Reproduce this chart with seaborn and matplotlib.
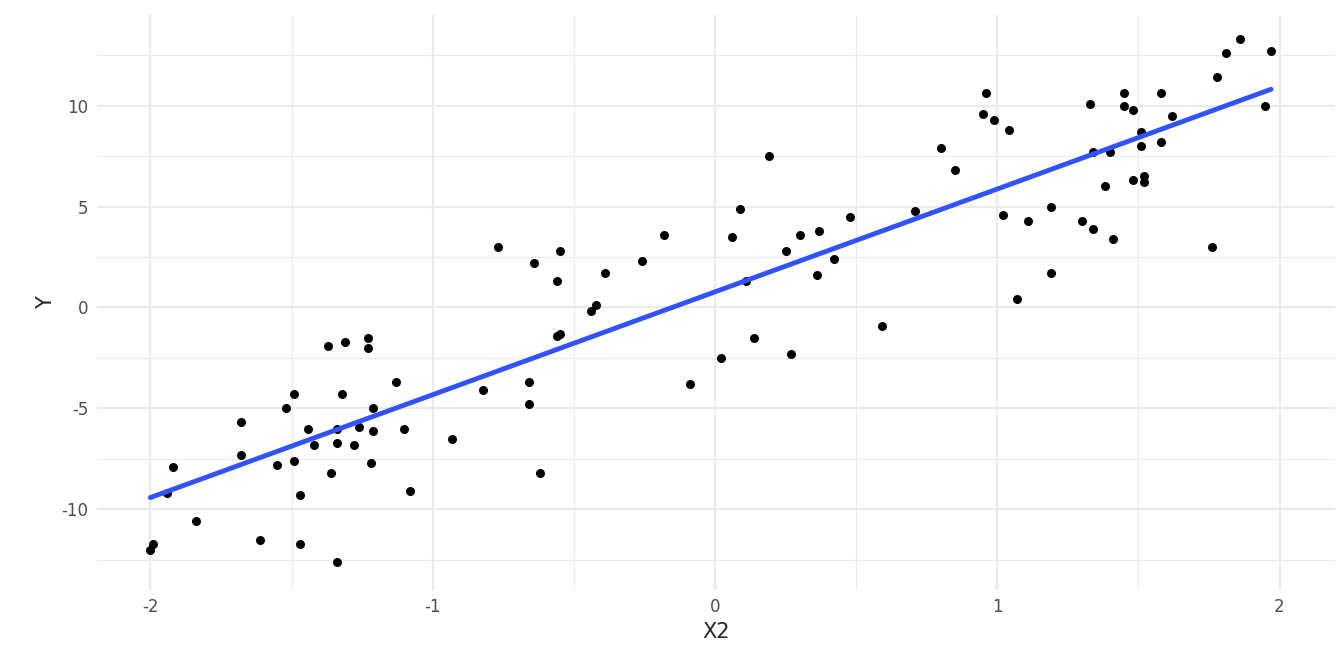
import matplotlib.pyplot as plt
import numpy as np
import pandas as pd
import seaborn as sns
from matplotlib.ticker import MultipleLocator

x2 = [-2.00, -1.99, -1.94, -1.92, -1.84, -1.68, -1.68, -1.61, -1.55, -1.52,
      -1.49, -1.49, -1.47, -1.47, -1.44, -1.42, -1.37, -1.36, -1.34, -1.34,
      -1.34, -1.32, -1.31, -1.28, -1.26, -1.23, -1.23, -1.22, -1.21, -1.21,
      -1.13, -1.10, -1.08, -0.93, -0.82, -0.77, -0.66, -0.66, -0.64, -0.62,
      -0.56, -0.55, -0.56, -0.55, -0.44, -0.42, -0.39, -0.26, -0.18, -0.09,
      0.02, 0.06, 0.09, 0.11, 0.14, 0.19, 0.25, 0.27, 0.30, 0.36,
      0.37, 0.42, 0.48, 0.59, 0.71, 0.80, 0.85, 0.96, 0.95, 0.99,
      1.04, 1.02, 1.07, 1.11, 1.19, 1.19, 1.30, 1.33, 1.34, 1.34,
      1.38, 1.40, 1.41, 1.45, 1.45, 1.48, 1.48, 1.51, 1.51, 1.52,
      1.52, 1.58, 1.58, 1.62, 1.76, 1.78, 1.81, 1.86, 1.95, 1.97]
y = [-12.0, -11.7, -9.2, -7.9, -10.6, -5.7, -7.3, -11.5, -7.8, -5.0,
     -4.3, -7.6, -9.3, -11.7, -6.0, -6.8, -1.9, -8.2, -12.6, -6.7,
     -6.0, -4.3, -1.7, -6.8, -5.9, -1.5, -2.0, -7.7, -5.0, -6.1,
     -3.7, -6.0, -9.1, -6.5, -4.1, 3.0, -3.7, -4.8, 2.2, -8.2,
     -1.4, -1.3, 1.3, 2.8, -0.2, 0.1, 1.7, 2.3, 3.6, -3.8,
     -2.5, 3.5, 4.9, 1.3, -1.5, 7.5, 2.8, -2.3, 3.6, 1.6,
     3.8, 2.4, 4.5, -0.9, 4.8, 7.9, 6.8, 10.6, 9.6, 9.3,
     8.8, 4.6, 0.4, 4.3, 5.0, 1.7, 4.3, 10.1, 3.9, 7.7,
     6.0, 7.7, 3.4, 10.6, 10.0, 6.3, 9.8, 8.7, 8.0, 6.5,
     6.2, 10.6, 8.2, 9.5, 3.0, 11.4, 12.6, 13.3, 10.0, 12.7]

df = pd.DataFrame({"X2": x2, "Y": y})

sns.set_style("white")
fig, ax = plt.subplots(figsize=(13.44, 6.72), dpi=100)
sns.regplot(data=df, x="X2", y="Y", ci=None, ax=ax,
            scatter_kws=dict(color="black", s=42, linewidths=0, alpha=1, zorder=3),
            line_kws=dict(color="#3152FF", lw=3.5, zorder=4))

ax.set_xlim(-2.19, 2.195)
ax.set_ylim(-14.0, 14.5)
ax.xaxis.set_major_locator(MultipleLocator(1))
ax.xaxis.set_minor_locator(MultipleLocator(0.5))
ax.yaxis.set_major_locator(MultipleLocator(5))
ax.yaxis.set_minor_locator(MultipleLocator(2.5))
ax.set_xticks([-2, -1, 0, 1, 2])
ax.set_xticklabels(["-2", "-1", "0", "1", "2"])
ax.set_yticks([-10, -5, 0, 5, 10])
ax.set_yticklabels(["-10", "-5", "0", "5", "10"])
ax.grid(which="major", color="#EBEBEB", lw=1.6, zorder=0)
ax.grid(which="minor", color="#EBEBEB", lw=0.8, zorder=0)
ax.set_axisbelow(True)
for s in ax.spines.values():
    s.set_visible(False)
ax.tick_params(which="both", length=0, labelsize=12, colors="#4D4D4D", pad=6)
ax.set_xlabel("X2", fontsize=15)
ax.set_ylabel("Y", fontsize=15)

plt.subplots_adjust(left=0.072, right=0.993, top=0.978, bottom=0.122)
plt.savefig("out.png", dpi=100)
